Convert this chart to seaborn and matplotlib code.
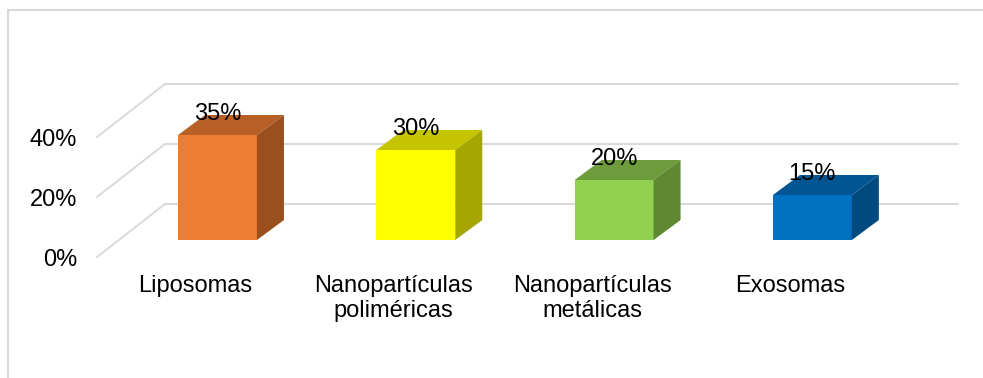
import numpy as np
import pandas as pd
import matplotlib
matplotlib.use("Agg")
import matplotlib.pyplot as plt
from matplotlib.patches import Polygon
from matplotlib.lines import Line2D
import seaborn as sns

# ---- data ----
categories = ["Liposomas", "Nanopartículas\npoliméricas", "Nanopartículas\nmetálicas", "Exosomas"]
values = [35, 30, 20, 15]
value_labels = ["35%", "30%", "20%", "15%"]
tick_values = [0, 20, 40]
tick_labels = ["0%", "20%", "40%"]

front_colors = ["#ED7D31", "#FFFF00", "#92D050", "#0070C0"]
top_colors = ["#B85F25", "#C4C400", "#6E9C3C", "#005592"]
side_colors = ["#9C4F1E", "#A6A600", "#5E8832", "#004A80"]

sns.set_theme(style="white")
plt.rcParams["font.family"] = ["Liberation Sans", "DejaVu Sans"]

W, H, DPI = 983, 378, 100
FS = 17
fig = plt.figure(figsize=(W / DPI, H / DPI), dpi=DPI)
ax = fig.add_axes([0, 0, 1, 1])

df = pd.DataFrame({"cat": categories, "val": values})
sns.barplot(data=df, x="cat", y="val", hue="cat", palette=front_colors,
            width=0.398, legend=False, ax=ax, saturation=1, linewidth=0)

# pixel-consistent coordinate system
px_x = 198.3     # px per category unit
px_y = 3.0       # px per percent
x_origin_px = 217.5
y_origin_px = 240
ax.set_xlim(-x_origin_px / px_x, (W - x_origin_px) / px_x)
ax.set_ylim(-(H - y_origin_px) / px_y, y_origin_px / px_y)
ax.axis("off")

# depth offsets (category units, percent units)
bar_dx, bar_dy = 27 / px_x, 20 / px_y          # bar depth
front_dx, front_dy = -22 / px_x, -17 / px_y    # bar plane -> front of floor
back_dx, back_dy = 46 / px_x, 36 / px_y        # bar plane -> back wall
wall_right = (958 - x_origin_px) / px_x
wall_left = (165 - x_origin_px) / px_x

grid_col = "#D9D9D9"
for v, lab in zip(tick_values, tick_labels):
    yb = v + back_dy
    ax.add_line(Line2D([wall_left, wall_right], [yb, yb], color=grid_col, lw=1.4, zorder=0))
    ax.add_line(Line2D([wall_left, wall_left - (back_dx - front_dx)],
                       [yb, yb - (back_dy - front_dy)], color=grid_col, lw=1.4, zorder=0))
    ax.text(wall_left - (back_dx - front_dx) - 20 / px_x, v + front_dy - 1.0, lab,
            ha="right", va="center", fontsize=FS, color="black")

# 3D faces from the seaborn bars
for i, p in enumerate(ax.patches[:len(values)]):
    x0, w, h = p.get_x(), p.get_width(), p.get_height()
    y0 = p.get_y()
    p.set_zorder(3)
    top = Polygon([(x0, y0 + h), (x0 + w, y0 + h), (x0 + w + bar_dx, y0 + h + bar_dy),
                   (x0 + bar_dx, y0 + h + bar_dy)], closed=True,
                  facecolor=top_colors[i], edgecolor="none", zorder=3)
    side = Polygon([(x0 + w, y0), (x0 + w + bar_dx, y0 + bar_dy),
                    (x0 + w + bar_dx, y0 + h + bar_dy), (x0 + w, y0 + h)], closed=True,
                   facecolor=side_colors[i], edgecolor="none", zorder=3)
    ax.add_patch(top)
    ax.add_patch(side)
    ax.text(x0 + w / 2, y0 + h + 21 / px_y, value_labels[i], ha="center", va="center",
            fontsize=FS, color="black", zorder=5)

# category labels on the front edge of the floor
for i, c in enumerate(categories):
    ax.text(i + front_dx, front_dy - 18 / px_y, c, ha="center", va="top",
            fontsize=FS, color="black", linespacing=1.15)

# chart frame (top and left visible)
fig.add_artist(Line2D([8 / W, 1], [1 - 10 / H, 1 - 10 / H], transform=fig.transFigure,
                      color=grid_col, lw=1.5))
fig.add_artist(Line2D([8 / W, 8 / W], [0, 1 - 10 / H], transform=fig.transFigure,
                      color=grid_col, lw=1.5))

fig.savefig("out.png", dpi=DPI, facecolor="white")
